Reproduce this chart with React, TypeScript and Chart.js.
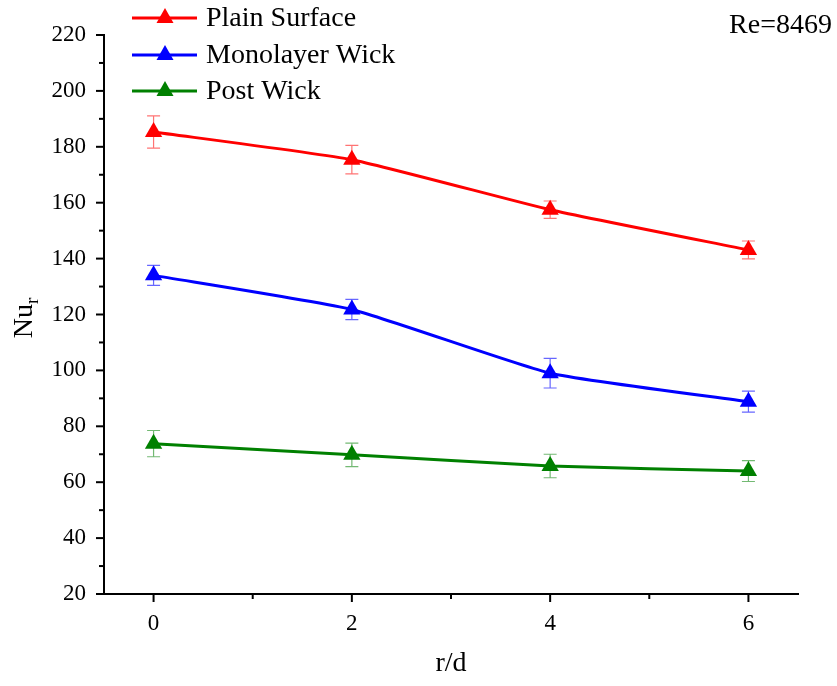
import React, { useEffect, useRef } from "react";
import { Chart, registerables } from "chart.js";

Chart.register(...registerables);

const xValues = [0, 2, 4, 6];
const xTickValues = [0, 2, 4, 6];
const yTickValues = [20, 40, 60, 80, 100, 120, 140, 160, 180, 200, 220];
const seriesNames = ["Plain Surface", "Monolayer Wick", "Post Wick"];
const plainSurface = [185.3, 175.4, 157.5, 143.1];
const plainErr = [5.8, 5.1, 3.1, 3.2];
const monolayerWick = [134, 121.8, 99, 88.8];
const monolayerErr = [3.6, 3.6, 5.3, 3.75];
const postWick = [73.8, 69.8, 65.8, 64];
const postErr = [4.7, 4.2, 4.2, 3.75];
const seriesColors = ["#ff0000", "#0000ff", "#008000"];
const errColors = ["rgba(255,0,0,0.55)", "rgba(0,0,255,0.6)", "rgba(0,128,0,0.55)"];
const annotation = "Re=8469";

const FONT = '"Liberation Serif", "Times New Roman", serif';

export default function App() {
  const ref = useRef<HTMLCanvasElement | null>(null);
  useEffect(() => {
    document.body.style.margin = "0";
    const canvas = ref.current!;
    const values = [plainSurface, monolayerWick, postWick];
    const errs = [plainErr, monolayerErr, postErr];

    const errorBars = {
      id: "errorBars",
      beforeDatasetsDraw(chart: any) {
        const { ctx, scales } = chart;
        const xs = scales.x, ys = scales.y;
        ctx.save();
        ctx.lineWidth = 1.2;
        values.forEach((arr, si) => {
          ctx.strokeStyle = errColors[si];
          arr.forEach((v, i) => {
            const px = xs.getPixelForValue(xValues[i]);
            const top = ys.getPixelForValue(v + errs[si][i]);
            const bot = ys.getPixelForValue(v - errs[si][i]);
            ctx.beginPath();
            ctx.moveTo(px, top); ctx.lineTo(px, bot);
            ctx.moveTo(px - 6.5, top); ctx.lineTo(px + 6.5, top);
            ctx.moveTo(px - 6.5, bot); ctx.lineTo(px + 6.5, bot);
            ctx.stroke();
          });
        });
        ctx.restore();
      },
    };

    const decorations = {
      id: "decorations",
      afterDraw(chart: any) {
        const { ctx, scales, chartArea } = chart;
        const xs = scales.x, ys = scales.y;
        ctx.save();
        ctx.strokeStyle = "#000";
        ctx.lineWidth = 2;
        // x ticks
        for (let v = 0; v <= 6; v++) {
          const px = xs.getPixelForValue(v);
          const len = v % 2 === 0 ? 8 : 5;
          ctx.beginPath();
          ctx.moveTo(px, chartArea.bottom);
          ctx.lineTo(px, chartArea.bottom + len);
          ctx.stroke();
        }
        // y ticks
        for (let v = 20; v <= 220; v += 10) {
          const py = ys.getPixelForValue(v);
          const len = v % 20 === 0 ? 8 : 5;
          ctx.beginPath();
          ctx.moveTo(chartArea.left, py);
          ctx.lineTo(chartArea.left - len, py);
          ctx.stroke();
        }
        // axis titles
        ctx.fillStyle = "#000";
        ctx.font = `28px ${FONT}`;
        ctx.textAlign = "center";
        ctx.textBaseline = "middle";
        ctx.fillText("r/d", (chartArea.left + chartArea.right) / 2, 664);
        ctx.save();
        ctx.translate(25, 318);
        ctx.rotate(-Math.PI / 2);
        ctx.textAlign = "left";
        ctx.font = `28px ${FONT}`;
        const w = ctx.measureText("Nu").width;
        ctx.font = `19px ${FONT}`;
        const wr = ctx.measureText("r").width;
        const start = -(w + wr) / 2;
        ctx.font = `28px ${FONT}`;
        ctx.fillText("Nu", start, 0);
        ctx.font = `19px ${FONT}`;
        ctx.fillText("r", start + w, 8);
        ctx.restore();
        // annotation
        ctx.font = `28px ${FONT}`;
        ctx.textAlign = "right";
        ctx.textBaseline = "middle";
        ctx.fillText(annotation, 832, 26);
        // legend
        const rows = [18, 55, 91];
        seriesNames.forEach((name, i) => {
          const y = rows[i];
          ctx.strokeStyle = seriesColors[i];
          ctx.lineWidth = 3;
          ctx.beginPath();
          ctx.moveTo(132, y);
          ctx.lineTo(197, y);
          ctx.stroke();
          ctx.fillStyle = seriesColors[i];
          ctx.beginPath();
          ctx.moveTo(165, y - 10);
          ctx.lineTo(173.5, y + 5);
          ctx.lineTo(156.5, y + 5);
          ctx.closePath();
          ctx.fill();
          ctx.fillStyle = "#000";
          ctx.font = `28px ${FONT}`;
          ctx.textAlign = "left";
          ctx.textBaseline = "middle";
          ctx.fillText(name, 206, y + 1);
        });
        ctx.restore();
      },
    };

    const chart = new Chart(canvas, {
      type: "line",
      data: {
        datasets: seriesNames.map((name, i) => ({
          label: name,
          data: xValues.map((x, j) => ({ x, y: values[i][j] })),
          borderColor: seriesColors[i],
          backgroundColor: seriesColors[i],
          borderWidth: 3,
          pointStyle: "triangle",
          pointRadius: 10,
          pointHoverRadius: 10,
          pointBorderWidth: 0,
          tension: 0.15,
          clip: false,
        })),
      },
      options: {
        responsive: false,
        animation: false,
        events: [],
        layout: { padding: { top: 35, right: 39, left: 0, bottom: 0 } },
        plugins: { legend: { display: false }, tooltip: { enabled: false } },
        scales: {
          x: {
            type: "linear",
            min: -0.5,
            max: 6.5,
            afterBuildTicks: (s: any) => { s.ticks = xTickValues.map((v) => ({ value: v })); },
            afterFit: (s: any) => { s.height = 92; },
            grid: { display: true, drawOnChartArea: false, tickLength: 8, tickColor: "rgba(0,0,0,0)" },
            border: { display: true, color: "#000", width: 2 },
            ticks: { color: "#000", font: { family: FONT, size: 23 }, padding: 8, maxRotation: 0 },
          },
          y: {
            type: "linear",
            min: 20,
            max: 220,
            afterBuildTicks: (s: any) => { s.ticks = yTickValues.map((v) => ({ value: v })); },
            afterFit: (s: any) => { s.width = 104; },
            grid: { display: true, drawOnChartArea: false, tickLength: 8, tickColor: "rgba(0,0,0,0)" },
            border: { display: true, color: "#000", width: 2 },
            ticks: { color: "#000", font: { family: FONT, size: 23 }, padding: 10 },
          },
        },
      },
      plugins: [errorBars, decorations],
    });
    return () => chart.destroy();
  }, []);
  return (
    <div style={{ width: 837, height: 686 }}>
      <canvas ref={ref} width={837} height={686} style={{ display: "block" }} />
    </div>
  );
}
